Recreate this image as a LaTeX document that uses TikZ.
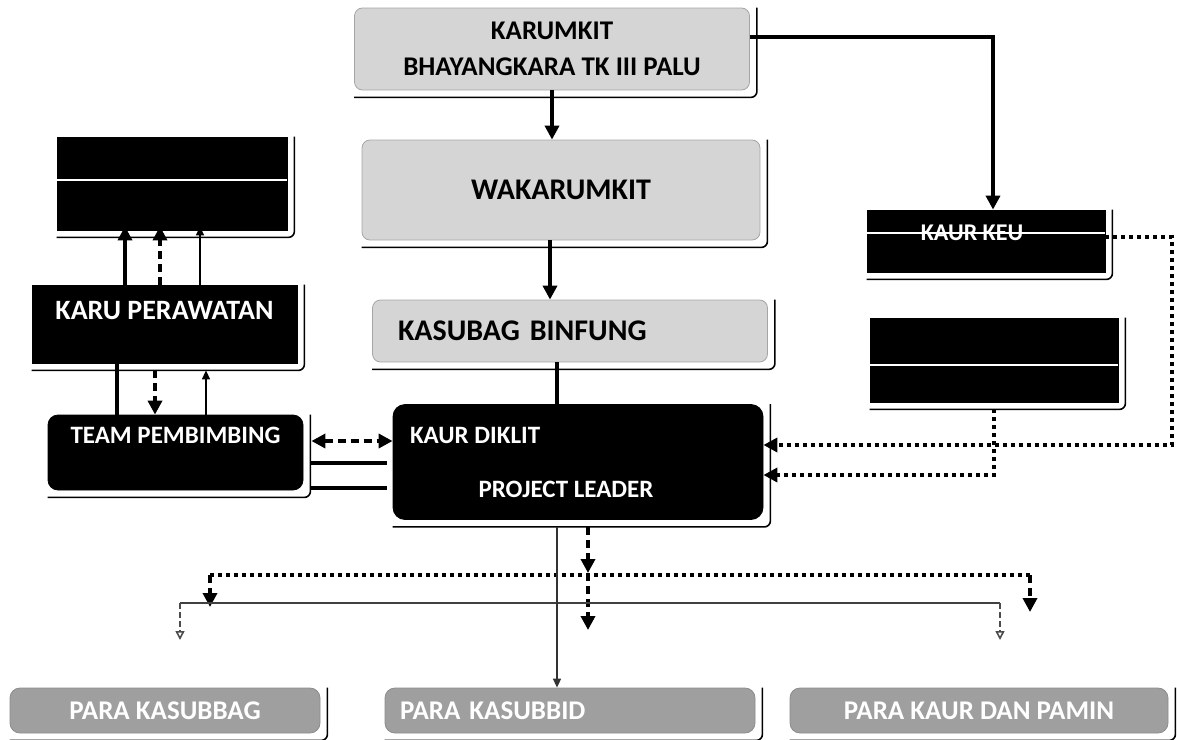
\documentclass[tikz,border=0pt]{standalone}
\usepackage{fontspec}
\setmainfont{Carlito}
\usetikzlibrary{shapes,arrows,arrows.meta,positioning,calc}

\begin{document}
\begin{tikzpicture}[x=0.5pt,y=-0.5pt,
  greybox/.style={draw=gray!70, fill=gray!33, rounded corners=4pt, inner sep=0pt, font=\bfseries\fontsize{15}{18}\selectfont},
  darkbox/.style={draw=black, fill=black, inner sep=0pt},
  lowbox/.style={draw=gray!90, fill=gray!75, rounded corners=5pt, inner sep=0pt, text=white, font=\bfseries\fontsize{13.5}{15}\selectfont},
  wtxt/.style={text=white, inner sep=0pt, font=\bfseries\fontsize{12.5}{14}\selectfont},
  shadeline/.style={draw=black, line width=0.8pt, rounded corners=3pt},
  gloss/.style={draw=white, line width=0.7pt},
  heavy/.style={line width=2pt, -{Triangle[length=7pt,width=7pt]}},
  heavyline/.style={line width=2pt},
  heavydash/.style={line width=2pt, dash pattern=on 4pt off 2.5pt, -{Triangle[length=7pt,width=7pt]}},
  heavydot/.style={line width=2pt, dash pattern=on 2pt off 2pt},
  slim/.style={line width=0.8pt, -{Triangle[length=4.5pt,width=4pt]}},
  slimdash/.style={line width=0.8pt, gray!60!black, dash pattern=on 3pt off 1.5pt, -{Triangle[open,length=4.5pt,width=4.5pt]}},
]
\useasboundingbox (0,0) rectangle (1177,739);

% middle column
\node[greybox, minimum width=197.5pt, minimum height=41pt, align=center, font=\bfseries\fontsize{13.5}{18}\selectfont] (karumkit) at (552,49) {KARUMKIT\\BHAYANGKARA TK III PALU};
\node[greybox, minimum width=199pt, minimum height=50pt] (waka) at (561,190) {WAKARUMKIT};
\node[greybox, minimum width=197.5pt, minimum height=31pt, text width=172pt, align=left] (kasubag) at (570,331) {KASUBAG BINFUNG};
\node[darkbox, rounded corners=6pt, minimum width=185pt, minimum height=57.5pt] (kaur) at (578,462) {};
\node[wtxt, anchor=west] (diklit) at ($(kaur.north west)+(17,31)$) {KAUR DIKLIT};
\node[wtxt] (leader) at ($(kaur.center)+(-12,27)$) {PROJECT LEADER};

% left column
\node[darkbox, minimum width=115pt, minimum height=46.5pt] (pelaksana) at (172,183.5) {};
\node[darkbox, minimum width=132.5pt, minimum height=39pt] (karu) at (164.5,324) {};
\node[wtxt, below=8pt of karu.north, font=\bfseries\fontsize{14}{15}\selectfont] (karutxt) {KARU PERAWATAN};
\node[darkbox, rounded corners=5pt, minimum width=127.5pt, minimum height=37.5pt] (team) at (175.5,452.5) {};
\node[wtxt, below=6pt of team.north] (teamtxt) {TEAM PEMBIMBING};

% right column
\node[darkbox, minimum width=119pt, minimum height=31pt] (keu) at (986,241) {};
\node[wtxt, font=\bfseries\fontsize{12}{13}\selectfont] (keutxt) at (972,233) {KAUR KEU};
\node[darkbox, minimum width=124pt, minimum height=42pt] (kaurkanan) at (994,360) {};

% bottom row
\node[lowbox, minimum width=155pt, minimum height=22.5pt] (kasubbag) at (165,710.5) {PARA KASUBBAG};
\node[lowbox, minimum width=185pt, minimum height=22.5pt, text width=170pt, align=left] (kasubbid) at (570,710.5) {PARA KASUBBID};
\node[lowbox, minimum width=189pt, minimum height=22.5pt] (pamin) at (979,710.5) {PARA KAUR DAN PAMIN};

% frame shadows and gloss
\foreach \n in {karumkit,waka,kasubag,kaur,pelaksana,karu,team,keu,kaurkanan,kasubbag,kasubbid,pamin}
  \draw[shadeline] ([yshift=-3.5pt]\n.south west) -- ([xshift=3.5pt,yshift=-3.5pt]\n.south east) -- ([xshift=3.5pt]\n.north east);
\draw[gloss] ([yshift=1.75pt]pelaksana.west) -- ([yshift=1.75pt]pelaksana.east);
\draw[gloss] ([yshift=-2.5pt]kaurkanan.west) -- ([yshift=-2.5pt]kaurkanan.east);
\draw[gloss] ([yshift=4pt]keu.west) -- ([yshift=4pt]keu.east);

% chain of command
\draw[heavy] (karumkit.south) -- (karumkit.south |- waka.north);
\draw[heavy] ([xshift=-5.5pt]waka.south) -- ([xshift=-5.5pt]waka.south |- kasubag.north);
\draw[heavyline] ([xshift=-6.5pt]kasubag.south) -- ([xshift=-6.5pt]kasubag.south |- kaur.north);
\draw[heavy] ([yshift=6pt]karumkit.east) -| ([xshift=3.5pt]keu.north);

% left links
\draw[heavy, shorten >=-2pt] ([xshift=-19.75pt]karu.north) -- ([xshift=-19.75pt]karu.north |- pelaksana.south);
\draw[heavydash, shorten >=-2pt] ([xshift=-2.25pt]karu.north) -- ([xshift=-2.25pt]karu.north |- pelaksana.south);
\draw[slim, shorten >=-2pt] ([xshift=17.75pt]karu.north) -- ([xshift=17.75pt]karu.north |- pelaksana.south);
\draw[heavyline] ([xshift=-23.75pt]karu.south) -- ([xshift=-23.75pt]karu.south |- team.north);
\draw[heavydash] ([xshift=-4.75pt,yshift=-3.5pt]karu.south) -- ([xshift=-4.75pt]karu.south |- team.north);
\draw[slim, shorten >=3.5pt] ([xshift=15.25pt]team.north) -- ([xshift=15.25pt]team.north |- karu.south);
\draw[heavydash, {Triangle[length=7pt,width=7pt]}-{Triangle[length=7pt,width=7pt]}, shorten <=4pt] ([yshift=5.75pt]team.east) -- ([yshift=5.75pt]team.east -| kaur.west);
\draw[heavyline, shorten <=4pt, shorten >=3pt] ([yshift=-5.25pt]team.east) -- ([yshift=-5.25pt]team.east -| kaur.west);
\draw[heavyline, shorten <=4pt, shorten >=3pt] ([yshift=-17.75pt]team.east) -- ([yshift=-17.75pt]team.east -| kaur.west);

% right links
\draw[heavydot, -{Triangle[length=7pt,width=7pt]}] ([yshift=2pt]keu.east) -- ++(67,0) |- ([yshift=8.5pt]kaur.east);
\draw[heavydot, -{Triangle[length=7pt,width=7pt]}] ([yshift=-3.5pt]kaurkanan.south) |- ([yshift=-6.5pt]kaur.east);

% lower distribution
\coordinate (splitA) at (588,573);
\coordinate (tipM) at (588,630);
\coordinate (busL) at (210,575);
\coordinate (busR) at (1030,575);
\coordinate (tipL) at (210,607);
\coordinate (tipR) at (1030,612);
\coordinate (thinL) at (180,603);
\coordinate (thinR) at (1000,603);
\coordinate (thintipL) at (180,640);
\coordinate (thintipR) at (1000,640);

\draw[heavydot] (busL) -- (busR);
\draw[heavydash] ([xshift=5pt,yshift=-3.5pt]kaur.south) -- (splitA);
\draw[heavydash] (splitA) -- (tipM);
\draw[heavydash] (busL) -- (tipL);
\draw[heavydash] (busR) -- (tipR);
\draw[line width=0.8pt, gray!50!black] (thinL) -- (thinR);
\draw[slimdash] (thinL) -- (thintipL);
\draw[slimdash] (thinR) -- (thintipR);
\draw[slim, gray!40!black] ([xshift=-10.5pt,yshift=-3.5pt]kaur.south) -- ([xshift=-10.5pt]kaur.south |- kasubbid.north);
\end{tikzpicture}
\end{document}
